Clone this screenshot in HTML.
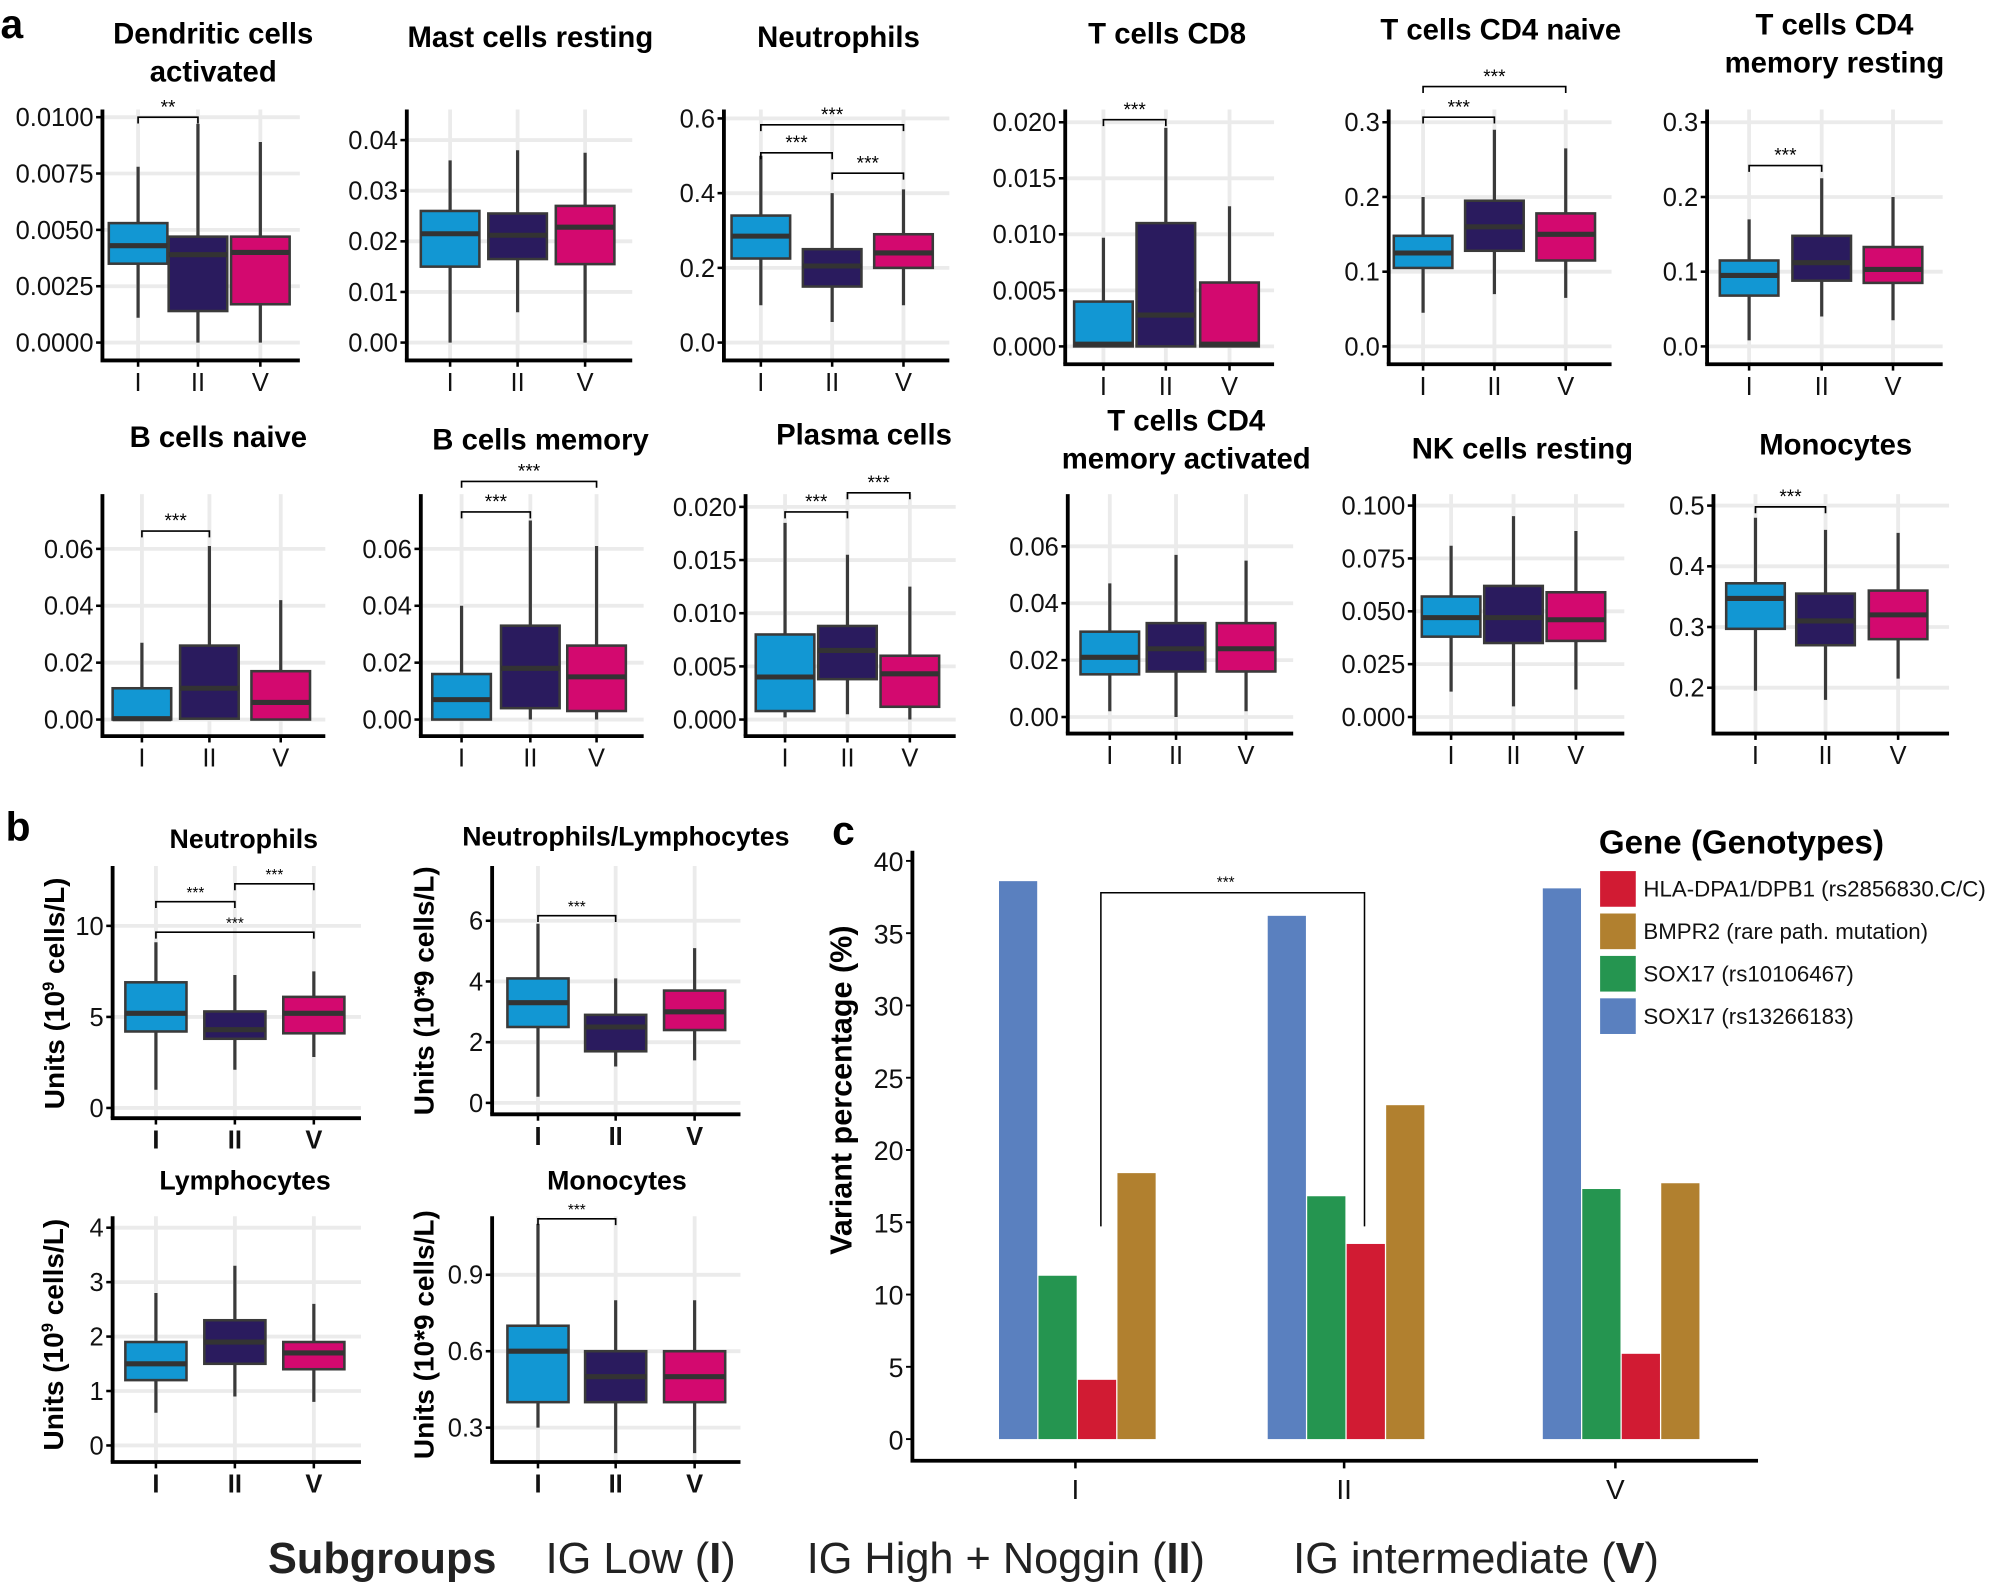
<!DOCTYPE html>
<html><head><meta charset="utf-8"><style>
html,body{margin:0;padding:0;background:#fff;}
svg{display:block;font-family:"Liberation Sans",Arial,sans-serif;}
</style></head><body>
<svg id="s" width="1998" height="1583" viewBox="0 0 1568 1243" xmlns="http://www.w3.org/2000/svg"></svg>
<script>
var out=[];
function a(s){out.push(s);}
var C=['#1297d3','#2a1b5e','#d3096f'];
function panel(p){
  var m=(p.y1-p.y0)/(p.v1-p.v0);
  function Y(v){return p.y0+(v-p.v0)*m;}
  p.ticks.forEach(function(t){a('<line x1="'+p.ax+'" x2="'+p.right+'" y1="'+Y(t[0])+'" y2="'+Y(t[0])+'" stroke="#ebebeb" stroke-width="3"/>');});
  p.cats.forEach(function(c){a('<line x1="'+c+'" x2="'+c+'" y1="'+p.top+'" y2="'+p.bot+'" stroke="#ebebeb" stroke-width="3"/>');});
  var bw=p.bw||46;
  p.boxes.forEach(function(b,i){
    var c=p.cats[i];
    a('<line x1="'+c+'" x2="'+c+'" y1="'+Y(b[0])+'" y2="'+Y(b[4])+'" stroke="#3a3a3a" stroke-width="2.5"/>');
    var yq3=Y(b[3]),yq1=Y(b[1]);
    a('<rect x="'+(c-bw/2)+'" y="'+yq3+'" width="'+bw+'" height="'+Math.max(1,yq1-yq3)+'" fill="'+C[i]+'" stroke="#3a3a3a" stroke-width="2"/>');
    a('<line x1="'+(c-bw/2)+'" x2="'+(c+bw/2)+'" y1="'+Y(b[2])+'" y2="'+Y(b[2])+'" stroke="#333" stroke-width="4"/>');
  });
  a('<line x1="'+p.ax+'" x2="'+p.ax+'" y1="'+p.top+'" y2="'+p.bot+'" stroke="#000" stroke-width="3"/>');
  a('<line x1="'+(p.ax-1.5)+'" x2="'+p.right+'" y1="'+p.bot+'" y2="'+p.bot+'" stroke="#000" stroke-width="3"/>');
  p.ticks.forEach(function(t){var y=Y(t[0]);
    a('<line x1="'+(p.ax-5)+'" x2="'+p.ax+'" y1="'+y+'" y2="'+y+'" stroke="#000" stroke-width="2"/>');
    a('<text x="'+(p.ax-7)+'" y="'+(y+7)+'" font-size="20" text-anchor="end" fill="#111">'+t[1]+'</text>');});
  var names=['I','II','V'];
  p.cats.forEach(function(c,i){
    a('<line x1="'+c+'" x2="'+c+'" y1="'+p.bot+'" y2="'+(p.bot+5)+'" stroke="#000" stroke-width="2"/>');
    a('<text x="'+c+'" y="'+(p.bot+24)+'" font-size="20" text-anchor="middle" '+(p.boldx?'font-weight="bold"':'')+' fill="#111">'+names[i]+'</text>');});
  p.title.forEach(function(t,i){a('<text x="'+p.tx+'" y="'+(p.ty+i*30)+'" font-size="'+(p.tfs||22)+'" font-weight="bold" text-anchor="middle">'+t+'</text>');});
  (p.br||[]).forEach(function(b){var x1=p.cats[b[0]],x2=p.cats[b[1]],y=b[2];
    a('<path d="M'+x1+' '+(y+5)+'V'+y+'H'+x2+'V'+(y+5)+'" fill="none" stroke="#000" stroke-width="1.3"/>');
    a('<text x="'+((x1+x2)/2)+'" y="'+(y-3)+'" font-size="'+(p.bfs||15)+'" text-anchor="middle">'+(b[3]||'***')+'</text>');});
  if(p.ylab){a('<text transform="translate('+p.ylx+','+p.yly+') rotate(-90)" font-size="22" font-weight="bold" text-anchor="middle">'+p.ylab+'</text>');}
}
function tk(vals,fmt){return vals.map(function(v){return [v,fmt(v)];});}
var P=[
{ax:80,right:235,top:86,bot:283,v0:0,y0:269,v1:0.01,y1:92,ticks:tk([0,0.0025,0.005,0.0075,0.01],function(v){return v.toFixed(4)}),cats:[108,155,204],
 boxes:[[0.0011,0.0035,0.0043,0.0053,0.0078],[0,0.0014,0.0039,0.0047,0.0097],[0,0.0017,0.004,0.0047,0.0089]],title:['Dendritic cells','activated'],tx:167,ty:34,tfs:23,br:[[0,1,92,'**']]},
{ax:319,right:496,top:86,bot:283,v0:0,y0:269,v1:0.04,y1:110,ticks:tk([0,0.01,0.02,0.03,0.04],function(v){return v.toFixed(2)}),cats:[353,406,459],
 boxes:[[0,0.015,0.0215,0.026,0.036],[0.006,0.0165,0.0212,0.0255,0.038],[0,0.0155,0.0228,0.027,0.0375]],title:['Mast cells resting'],tx:416,ty:37,tfs:23},
{ax:568,right:745,top:86,bot:283,v0:0,y0:269,v1:0.6,y1:93,ticks:tk([0,0.2,0.4,0.6],function(v){return v.toFixed(1)}),cats:[597,653,709],
 boxes:[[0.1,0.225,0.285,0.34,0.5],[0.055,0.15,0.205,0.25,0.4],[0.1,0.2,0.24,0.29,0.41]],title:['Neutrophils'],tx:658,ty:37,tfs:23,br:[[0,1,120],[1,2,136],[0,2,98]]},
{ax:836,right:1000,top:86,bot:286,v0:0,y0:272,v1:0.02,y1:96,ticks:tk([0,0.005,0.01,0.015,0.02],function(v){return v.toFixed(3)}),cats:[866,915,965],
 boxes:[[0,0,0.0002,0.004,0.0097],[0,0,0.0028,0.011,0.0195],[0,0,0.0002,0.0057,0.0125]],title:['T cells CD8'],tx:916,ty:34,tfs:23,br:[[0,1,94]]},
{ax:1090,right:1265,top:86,bot:286,v0:0,y0:272,v1:0.3,y1:96,ticks:tk([0,0.1,0.2,0.3],function(v){return v.toFixed(1)}),cats:[1117,1173,1229],
 boxes:[[0.045,0.105,0.125,0.148,0.2],[0.07,0.128,0.16,0.195,0.29],[0.065,0.115,0.15,0.178,0.265]],title:['T cells CD4 naive'],tx:1178,ty:31,tfs:23,br:[[0,1,92],[0,2,68]]},
{ax:1340,right:1525,top:86,bot:286,v0:0,y0:272,v1:0.3,y1:96,ticks:tk([0,0.1,0.2,0.3],function(v){return v.toFixed(1)}),cats:[1373,1430,1486],
 boxes:[[0.008,0.068,0.095,0.115,0.17],[0.04,0.088,0.112,0.148,0.225],[0.035,0.085,0.103,0.133,0.2]],title:['T cells CD4','memory resting'],tx:1440,ty:27,tfs:23,br:[[0,1,130]]},
{ax:80,right:255,top:388,bot:578,v0:0,y0:565,v1:0.06,y1:431,ticks:tk([0,0.02,0.04,0.06],function(v){return v.toFixed(2)}),cats:[111,164,220],
 boxes:[[0,0,0.0003,0.011,0.027],[0,0.0003,0.011,0.026,0.061],[0,0,0.006,0.017,0.042]],title:['B cells naive'],tx:171,ty:351,tfs:23,br:[[0,1,417]]},
{ax:330,right:505,top:388,bot:578,v0:0,y0:565,v1:0.06,y1:431,ticks:tk([0,0.02,0.04,0.06],function(v){return v.toFixed(2)}),cats:[362,416,468],
 boxes:[[0,0,0.007,0.016,0.04],[0,0.004,0.018,0.033,0.07],[0,0.003,0.015,0.026,0.061]],title:['B cells memory'],tx:424,ty:353,tfs:23,br:[[0,1,402],[0,2,378]]},
{ax:585,right:750,top:388,bot:578,v0:0,y0:565,v1:0.02,y1:398,ticks:tk([0,0.005,0.01,0.015,0.02],function(v){return v.toFixed(3)}),cats:[616,665,714],
 boxes:[[0.0002,0.0008,0.004,0.008,0.0185],[0.0005,0.0038,0.0065,0.0088,0.0155],[0,0.0012,0.0043,0.006,0.0125]],title:['Plasma cells'],tx:678,ty:349,tfs:23,br:[[0,1,402],[1,2,387]]},
{ax:838,right:1015,top:388,bot:576,v0:0,y0:563,v1:0.06,y1:429,ticks:tk([0,0.02,0.04,0.06],function(v){return v.toFixed(2)}),cats:[871,923,978],
 boxes:[[0.002,0.015,0.021,0.03,0.047],[0,0.016,0.024,0.033,0.057],[0.002,0.016,0.024,0.033,0.055]],title:['T cells CD4','memory activated'],tx:931,ty:338,tfs:23},
{ax:1110,right:1275,top:388,bot:576,v0:0,y0:563,v1:0.1,y1:397,ticks:tk([0,0.025,0.05,0.075,0.1],function(v){return v.toFixed(3)}),cats:[1139,1188,1237],
 boxes:[[0.012,0.038,0.047,0.057,0.081],[0.005,0.035,0.047,0.062,0.095],[0.013,0.036,0.046,0.059,0.088]],title:['NK cells resting'],tx:1195,ty:360,tfs:23},
{ax:1345,right:1530,top:388,bot:576,v0:0.2,y0:540,v1:0.5,y1:397,ticks:tk([0.2,0.3,0.4,0.5],function(v){return v.toFixed(1)}),cats:[1378,1433,1490],
 boxes:[[0.195,0.297,0.347,0.372,0.48],[0.18,0.27,0.31,0.355,0.46],[0.215,0.28,0.32,0.36,0.455]],title:['Monocytes'],tx:1441,ty:357,tfs:23,br:[[0,1,398]]},
{ax:88,right:283,top:680,bot:878,v0:0,y0:870,v1:10,y1:727,ticks:tk([0,5,10],String),cats:[122,184,246],bw:48,boldx:1,bfs:12,tfs:21,
 boxes:[[1,4.2,5.2,6.9,9.1],[2.1,3.8,4.3,5.3,7.3],[2.8,4.1,5.2,6.1,7.5]],title:['Neutrophils'],tx:191,ty:666,br:[[0,1,708],[1,2,694],[0,2,732]],
 ylab:'Units (10<tspan font-size="13" dy="-8">9</tspan><tspan dy="8"> cells/L)</tspan>',ylx:50,yly:780},
{ax:386,right:581,top:680,bot:875,v0:0,y0:866,v1:6,y1:723,ticks:tk([0,2,4,6],String),cats:[422,483,545],bw:48,boldx:1,bfs:12,tfs:21,
 boxes:[[0.2,2.5,3.3,4.1,5.9],[1.2,1.7,2.5,2.9,4.1],[1.4,2.4,3,3.7,5.1]],title:['Neutrophils/Lymphocytes'],tx:491,ty:664,br:[[0,1,719]],
 ylab:'Units (10*9 cells/L)',ylx:340,yly:778},
{ax:88,right:283,top:955,bot:1148,v0:0,y0:1135,v1:4,y1:964,ticks:tk([0,1,2,3,4],String),cats:[122,184,246],bw:48,boldx:1,tfs:21,
 boxes:[[0.6,1.2,1.5,1.9,2.8],[0.9,1.5,1.9,2.3,3.3],[0.8,1.4,1.7,1.9,2.6]],title:['Lymphocytes'],tx:192,ty:934,
 ylab:'Units (10<tspan font-size="13" dy="-8">9</tspan><tspan dy="8"> cells/L)</tspan>',ylx:49,yly:1048},
{ax:386,right:581,top:955,bot:1148,v0:0.3,y0:1121,v1:0.9,y1:1001,ticks:tk([0.3,0.6,0.9],function(v){return v.toFixed(1)}),cats:[422,483,545],bw:48,boldx:1,bfs:12,tfs:21,
 boxes:[[0.3,0.4,0.6,0.7,1.1],[0.2,0.4,0.5,0.6,0.8],[0.2,0.4,0.5,0.6,0.8]],title:['Monocytes'],tx:484,ty:934,br:[[0,1,957]],
 ylab:'Units (10*9 cells/L)',ylx:340,yly:1048}
];
P.forEach(panel);
a('<text x="0" y="30" font-size="32" font-weight="bold">a</text>');
a('<text x="4" y="660" font-size="32" font-weight="bold">b</text>');
a('<text x="653" y="663" font-size="32" font-weight="bold">c</text>');
var y0=1130,s=(1130-676)/40;function Yc(v){return y0-v*s;}
a('<line x1="716" x2="716" y1="668" y2="1148" stroke="#000" stroke-width="3"/>');
a('<line x1="714.5" x2="1380" y1="1147" y2="1147" stroke="#000" stroke-width="3"/>');
for(var v=0;v<=40;v+=5){var y=Yc(v);a('<line x1="711" x2="716" y1="'+y+'" y2="'+y+'" stroke="#000" stroke-width="1.5"/>');
 a('<text x="709" y="'+(y+8)+'" font-size="21" text-anchor="end" fill="#111">'+v+'</text>');}
var cols=['#5a80bf','#259550','#d11b33','#b1802f'];
var groups=[[784,[38.6,11.3,4.1,18.4]],[995,[36.2,16.8,13.5,23.1]],[1211,[38.1,17.3,5.9,17.7]]];
groups.forEach(function(g){g[1].forEach(function(v,i){var x=g[0]+i*31;a('<rect x="'+x+'" y="'+Yc(v)+'" width="30" height="'+(v*s)+'" fill="'+cols[i]+'"/>');});});
[[844,'I'],[1055,'II'],[1268,'V']].forEach(function(t){a('<line x1="'+t[0]+'" x2="'+t[0]+'" y1="1147" y2="1153" stroke="#000" stroke-width="2"/>');
 a('<text x="'+t[0]+'" y="1177" font-size="22" text-anchor="middle" fill="#111">'+t[1]+'</text>');});
a('<path d="M864 963V701H1071V963" fill="none" stroke="#000" stroke-width="1.2"/>');
a('<text x="962" y="697" font-size="12" text-anchor="middle">***</text>');
a('<text transform="translate(668,856) rotate(-90)" font-size="24" font-weight="bold" text-anchor="middle">Variant percentage (%)</text>');
a('<text x="1255" y="670" font-size="26" font-weight="bold">Gene (Genotypes)</text>');
var L=['HLA-DPA1/DPB1 (rs2856830.C/C)','BMPR2 (rare path. mutation)','SOX17 (rs10106467)','SOX17 (rs13266183)'];
var LC=['#d11b33','#b1802f','#259550','#5a80bf'];
L.forEach(function(t,i){var y=684+i*33.3;a('<rect x="1256" y="'+y+'" width="28" height="28" fill="'+LC[i]+'"/>');
 a('<text x="1290" y="'+(y+20)+'" font-size="17.5" fill="#111">'+t+'</text>');});
a('<text y="1235" font-size="34" fill="#222"><tspan x="210" font-weight="bold">Subgroups</tspan><tspan x="428">IG Low (</tspan><tspan font-weight="bold">I</tspan><tspan>)</tspan><tspan x="633">IG High + Noggin (</tspan><tspan font-weight="bold">II</tspan><tspan>)</tspan><tspan x="1015">IG intermediate (</tspan><tspan font-weight="bold">V</tspan><tspan>)</tspan></text>');
document.getElementById('s').innerHTML=out.join('');
</script>
</body></html>
